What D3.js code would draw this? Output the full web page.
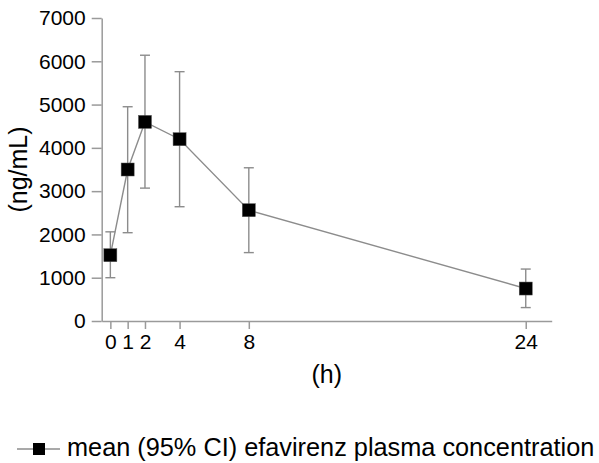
<!DOCTYPE html>
<html>
  <head>
    <title>Efavirenz plasma concentration</title>
    <script src="https://d3js.org/d3.v7.min.js"></script>
    <style>
      body { margin: 0; background: #fff; }
      svg { display: block; font-family: "Liberation Sans", Arial, sans-serif; }
      .axis path, .axis line { stroke: #9a9a9a; stroke-width: 1.5; }
    </style>
  </head>
  <body>
    <div id="chart"></div>
    <script>
      // hours after dose
      var hours = [0, 1, 2, 4, 8, 24];
      // mean concentration (ng/mL) and 95% CI
      var mean = [1520, 3500, 4600, 4200, 2560, 750];
      var lower = [1000, 2040, 3070, 2640, 1580, 310];
      var upper = [2060, 4950, 6140, 5760, 3540, 1200];
      var yTicks = [0, 1000, 2000, 3000, 4000, 5000, 6000, 7000];

      var svg = d3.select("#chart")
        .append("svg")
        .attr("width", 599)
        .attr("height", 463);

      var x = d3.scaleLinear()
        .domain([-0.5, 25.5])
        .range([101.7, 551.7]);

      var y = d3.scaleLinear()
        .domain([0, 7000])
        .range([321, 18]);

      // axes
      var xAxis = svg.append("g")
        .attr("class", "axis")
        .attr("transform", "translate(0,321)")
        .call(d3.axisBottom(x).tickValues(hours).tickFormat(d3.format("d"))
          .tickSize(8).tickSizeOuter(0).tickPadding(5));

      var yAxis = svg.append("g")
        .attr("class", "axis")
        .attr("transform", "translate(101.7,0)")
        .call(d3.axisLeft(y).tickValues(yTicks).tickFormat(d3.format("d"))
          .tickSize(10).tickSizeOuter(0).tickPadding(6));

      [xAxis, yAxis].forEach(function(a) {
        a.attr("font-family", "Liberation Sans, Arial, sans-serif")
          .attr("font-size", 21);
        a.selectAll("text").attr("fill", "#000");
      });

      var pts = hours.map(function(h, i) {
        return { h: h, m: mean[i], lo: lower[i], hi: upper[i] };
      });

      // connecting line
      svg.append("path")
        .datum(pts)
        .attr("fill", "none")
        .attr("stroke", "#8c8c8c")
        .attr("stroke-width", 1.4)
        .attr("d", d3.line().x(function(d) { return x(d.h); }).y(function(d) { return y(d.m); }));

      // error bars
      var eb = svg.append("g")
        .attr("stroke", "#8c8c8c")
        .attr("stroke-width", 1.4);
      eb.selectAll(".v").data(pts).enter().append("line")
        .attr("x1", function(d) { return x(d.h); })
        .attr("x2", function(d) { return x(d.h); })
        .attr("y1", function(d) { return y(d.lo); })
        .attr("y2", function(d) { return y(d.hi); });
      eb.selectAll(".capHi").data(pts).enter().append("line")
        .attr("x1", function(d) { return x(d.h) - 5; })
        .attr("x2", function(d) { return x(d.h) + 5; })
        .attr("y1", function(d) { return y(d.hi); })
        .attr("y2", function(d) { return y(d.hi); });
      eb.selectAll(".capLo").data(pts).enter().append("line")
        .attr("x1", function(d) { return x(d.h) - 5; })
        .attr("x2", function(d) { return x(d.h) + 5; })
        .attr("y1", function(d) { return y(d.lo); })
        .attr("y2", function(d) { return y(d.lo); });

      // markers
      svg.selectAll("rect.pt")
        .data(pts)
        .enter()
        .append("rect")
        .attr("class", "pt")
        .attr("x", function(d) { return x(d.h) - 6.5; })
        .attr("y", function(d) { return y(d.m) - 6.5; })
        .attr("width", 13)
        .attr("height", 13)
        .attr("fill", "#000")
        .attr("stroke", "#555")
        .attr("stroke-width", 0.5);

      // axis titles
      svg.append("text")
        .attr("x", 326.7)
        .attr("y", 383)
        .attr("text-anchor", "middle")
        .attr("font-size", 25)
        .text("(h)");

      svg.append("text")
        .attr("transform", "translate(27,169.5) rotate(-90)")
        .attr("text-anchor", "middle")
        .attr("font-size", 25)
        .text("(ng/mL)");

      // legend
      var lg = svg.append("g");
      lg.append("line")
        .attr("x1", 17).attr("x2", 60)
        .attr("y1", 449).attr("y2", 449)
        .attr("stroke", "#8c8c8c")
        .attr("stroke-width", 1.4);
      lg.append("rect")
        .attr("x", 33).attr("y", 443)
        .attr("width", 12).attr("height", 12)
        .attr("fill", "#000");
      lg.append("text")
        .attr("x", 67)
        .attr("y", 456)
        .attr("font-size", 25.3)
        .text("mean (95% CI) efavirenz plasma concentration");
    </script>
  </body>
</html>
